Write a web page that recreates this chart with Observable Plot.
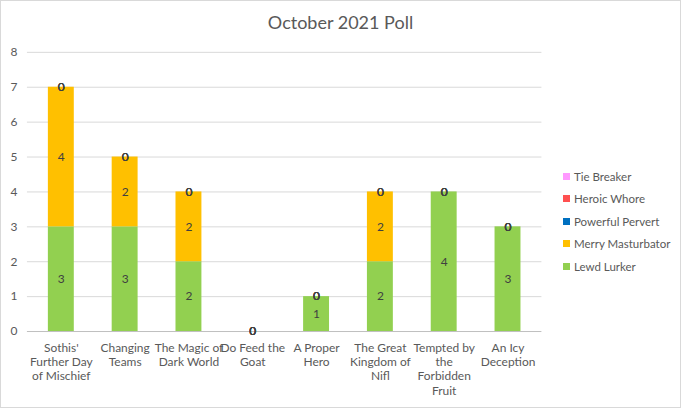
<!DOCTYPE html>
<html>
<head>
<meta charset="utf-8">
<script src="https://cdn.jsdelivr.net/npm/d3@7"></script>
<script src="https://cdn.jsdelivr.net/npm/@observablehq/plot@0.6"></script>
<style>
  body { margin: 0; background: #fff; }
  #wrap { position: relative; width: 679px; height: 406px; border: 1px solid #d9d9d9; font-family: Lato, "Open Sans", sans-serif; overflow: hidden; }
  #title { position: absolute; left: 0; width: 679px; top: 10px; text-align: center; font-size: 18px; color: #595959; }
  #chart { position: absolute; left: 0; top: 0; }
  #legend { position: absolute; left: 562px; top: 164px; font-size: 11.5px; color: #595959; }
  .li { height: 22.5px; display: flex; align-items: center; }
  .sw { width: 7px; height: 7px; margin-right: 4px; }
</style>
</head>
<body>
<div id="wrap">
  <div id="chart"></div>
  <div id="title">October 2021 Poll</div>
  <div id="legend"></div>
</div>
<script>
const categories = [
  "Sothis'\nFurther Day\nof Mischief",
  "Changing\nTeams",
  "The Magic of\nDark World",
  "Do Feed the\nGoat",
  "A Proper\nHero",
  "The Great\nKingdom of\nNifl",
  "Tempted by\nthe\nForbidden\nFruit",
  "An Icy\nDeception"
];
const seriesNames = ["Lewd Lurker", "Merry Masturbator", "Powerful Pervert", "Heroic Whore", "Tie Breaker"];
const seriesColors = ["#92d050", "#ffc000", "#0070c0", "#ff5050", "#ff99ff"];
const lewdLurker        = [3, 3, 2, 0, 1, 2, 4, 3];
const merryMasturbator  = [4, 2, 2, 0, 0, 2, 0, 0];
const powerfulPervert   = [0, 0, 0, 0, 0, 0, 0, 0];
const heroicWhore       = [0, 0, 0, 0, 0, 0, 0, 0];
const tieBreaker        = [0, 0, 0, 0, 0, 0, 0, 0];
const yTicks = [0, 1, 2, 3, 4, 5, 6, 7, 8];

const seriesValues = [lewdLurker, merryMasturbator, powerfulPervert, heroicWhore, tieBreaker];
const rows = [];
seriesNames.forEach((s, si) => {
  categories.forEach((c, ci) => rows.push({category: c, series: s, value: seriesValues[si][ci]}));
});

const chart = Plot.plot({
  width: 681,
  height: 408,
  marginLeft: 26,
  marginRight: 139,
  marginTop: 51,
  marginBottom: 77,
  style: {fontFamily: "Lato, 'Open Sans', sans-serif", fontSize: "12px", color: "#595959", background: "transparent"},
  x: {domain: categories, paddingInner: 0.6, paddingOuter: 0.3, label: null},
  y: {domain: [0, 8], label: null},
  color: {domain: seriesNames, range: seriesColors},
  marks: [
    Plot.gridY(yTicks.filter(d => d > 0), {stroke: "#d9d9d9", strokeOpacity: 1}),
    Plot.barY(rows, Plot.stackY({x: "category", y: "value", fill: "series", order: seriesNames})),
    Plot.ruleY([0], {stroke: "#bfbfbf"}),
    Plot.text(rows, Plot.stackY({x: "category", y: "value", z: "series", order: seriesNames, text: d => String(d.value), fill: "#404040", fontSize: 12})),
    Plot.axisY(yTicks, {tickSize: 0, tickPadding: 10, fill: "#595959", fontSize: 12}),
    Plot.axisX({tickSize: 0, tickPadding: 10, fill: "#595959", fontSize: 12, lineHeight: 1.2})
  ]
});
document.getElementById("chart").appendChild(chart);

const legend = document.getElementById("legend");
for (let i = seriesNames.length - 1; i >= 0; i--) {
  const d = document.createElement("div");
  d.className = "li";
  d.innerHTML = `<span class="sw" style="background:${seriesColors[i]}"></span>${seriesNames[i]}`;
  legend.appendChild(d);
}
</script>
</body>
</html>
